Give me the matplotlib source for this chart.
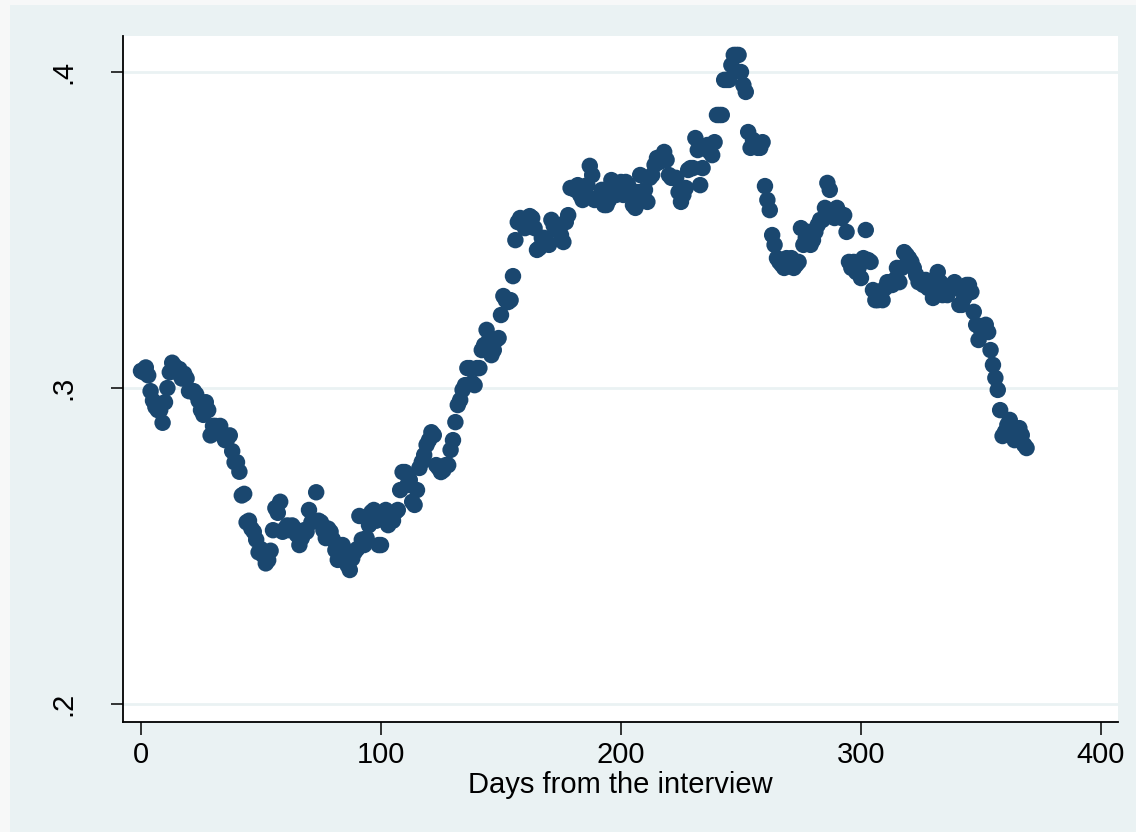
"""Scatter of a daily share against days from the interview, Stata s2color look."""

import matplotlib

matplotlib.use("Agg")
import matplotlib.pyplot as plt
from matplotlib.patches import Rectangle

plt.rcParams["font.family"] = ["Liberation Sans", "DejaVu Sans"]

# one value per day, 0..369
share = [
    .3054, .305, .3065, .304, .299, .296, .294, .293, .293, .289,
    .2955, .300, .305, .308, .307, .305, .306, .303, .3045, .303,
    .299, .299, .299, .298, .296, .293, .2915, .2955, .293, .285,
    .288, .288, .287, .288, .285, .2835, .284, .285, .280, .2765,
    .2765, .2735, .266, .2665, .2575, .258, .2555, .2545, .252, .248,
    .249, .247, .2445, .2455, .2485, .255, .262, .2605, .264, .2545,
    .2555, .2565, .255, .2565, .2555, .2535, .2503, .2525, .255, .2545,
    .2614, .2575, .258, .267, .258, .2575, .255, .2525, .2555, .2545,
    .252, .2487, .2456, .248, .2503, .2487, .244, .2424, .246, .248,
    .249, .2595, .252, .2503, .2525, .2566, .2607, .2614, .258, .2503,
    .2503, .2589, .2614, .2566, .2589, .258, .2607, .2614, .2677, .2734,
    .2734, .2693, .2709, .264, .263, .2677, .2747, .2766, .2788, .282,
    .2835, .286, .2851, .2756, .2747, .2734, .274, .2756, .2756, .2804,
    .2835, .2892, .2946, .2962, .2994, .3009, .3063, .3063, .3016, .3009,
    .3063, .3063, .312, .3136, .3184, .3152, .3104, .312, .3152, .3158,
    .3231, .3291, .3278, .3272, .3278, .3354, .3468, .3525, .3538, .3525,
    .3506, .3538, .3544, .3538, .3506, .3437, .3443, .3475, .3475, .3462,
    .3453, .3532, .3513, .350, .3516, .3484, .3462, .3525, .3547, .3633,
    .3633, .3627, .3642, .3611, .3595, .362, .3642, .3703, .3674, .3595,
    .3601, .3595, .3627, .3579, .3579, .3595, .3658, .3633, .3611, .3627,
    .3652, .3611, .3652, .3642, .3611, .3579, .357, .362, .3674, .3611,
    .3627, .3589, .3665, .3674, .3706, .3728, .3715, .3728, .3747, .3722,
    .3674, .3665, .3665, .3665, .362, .3589, .3611, .3633, .369, .3696,
    .3696, .3791, .3753, .3642, .3696, .376, .3769, .3747, .3737, .3778,
    .3864, .3864, .3864, .3975, .3975, .3975, .4022, .4054, .4054, .4054,
    .400, .3959, .3937, .381, .376, .3785, .3769, .376, .376, .3778,
    .3639, .3595, .3563, .3484, .3453, .3411, .3399, .339, .338, .3411,
    .3399, .3411, .338, .339, .3399, .3506, .3453, .3475, .3494, .3453,
    .3468, .3494, .3516, .3532, .3532, .357, .3649, .3627, .3547, .3538,
    .357, .3547, .3538, .3547, .3494, .3399, .338, .3399, .3367, .338,
    .3348, .3411, .350, .3405, .3399, .331, .3278, .3278, .3294, .3278,
    .3316, .3335, .3326, .3326, .3342, .338, .3335, .338, .343, .3421,
    .3411, .3399, .338, .3358, .3335, .3342, .3326, .3342, .3316, .3326,
    .3285, .3326, .3367, .3335, .3294, .331, .3294, .3316, .3326, .3335,
    .3316, .3263, .3263, .3285, .3326, .3326, .3304, .3241, .320, .3152,
    .3184, .3177, .320, .3177, .312, .3073, .3032, .2994, .293, .2848,
    .2861, .2883, .2899, .2867, .2835, .2861, .2873, .2851, .282, .281,
]
days = list(range(len(share)))

x_ticks = [0, 100, 200, 300, 400]
y_ticks = [.2, .3, .4]
y_tick_labels = [".2", ".3", ".4"]

W, H = 1136, 832
BG = "#eaf2f3"
NAVY = "#1a476f"

fig = plt.figure(figsize=(W / 100, H / 100), dpi=100)
fig.patch.set_facecolor("#f7f8f8")
fig.patches.append(Rectangle((10 / W, 0), 1 - 10 / W, 1 - 5 / H,
                             transform=fig.transFigure, facecolor=BG,
                             edgecolor="none", zorder=-5))

ax = fig.add_axes([123 / W, 1 - 722 / H, (1118 - 123) / W, (722 - 36) / H])
ax.set_facecolor("white")
ax.scatter(days, share, s=140, color=NAVY, edgecolors="none", zorder=3)

ax.set_xlim(-7.5, 407.1)
ax.set_ylim(.1943, .4114)
ax.set_xticks(x_ticks)
ax.set_yticks(y_ticks)
ax.set_yticklabels(y_tick_labels, rotation=90, va="center")
ax.grid(axis="y", color=BG, linewidth=2, zorder=1)
ax.grid(axis="x", visible=False)

for side in ("top", "right"):
    ax.spines[side].set_visible(False)
for side in ("left", "bottom"):
    ax.spines[side].set_linewidth(1.3)
ax.tick_params(axis="both", direction="out", length=9, width=1.1,
               labelsize=21, pad=5)
ax.tick_params(axis="y", pad=24)
ax.set_xlabel("Days from the interview", fontsize=21, labelpad=1)

fig.savefig("out.png", dpi=100, facecolor=fig.get_facecolor())
